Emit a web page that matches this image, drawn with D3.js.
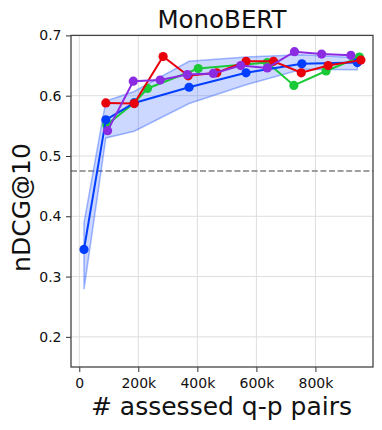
<!DOCTYPE html>
<html>
<head>
<meta charset="utf-8">
<script src="https://cdn.jsdelivr.net/npm/d3@7"></script>
<style>
  body { margin: 0; background: #fff; }
  svg { font-family: "DejaVu Sans", sans-serif; }
</style>
</head>
<body>
<div id="chart"></div>
<script>
// data
const blueX = [16, 90, 186, 372, 565, 754, 942];
const blueY = [0.345, 0.560, 0.588, 0.614, 0.638, 0.653, 0.655];
const bandLow = [0.279, 0.530, 0.541, 0.587, 0.618, 0.644, 0.643];
const bandHigh = [0.389, 0.591, 0.607, 0.657, 0.664, 0.668, 0.663];

const redX = [90, 186, 284, 369, 466, 565, 658, 752, 843, 954];
const redY = [0.588, 0.587, 0.665, 0.633, 0.638, 0.657, 0.657, 0.638, 0.650, 0.659];

const purpleX = [96, 183, 274, 366, 454, 547, 637, 729, 821, 920];
const purpleY = [0.542, 0.624, 0.626, 0.635, 0.637, 0.650, 0.646, 0.673, 0.669, 0.667];

const greenX = [93, 186, 231, 403, 637, 727, 836, 949];
const greenY = [0.552, 0.588, 0.612, 0.645, 0.655, 0.617, 0.641, 0.664];

const xTicks = [0, 200, 400, 600, 800];
const yTicks = [0.2, 0.3, 0.4, 0.5, 0.6, 0.7];
const baseline = 0.475;

const w = 382, h = 430;
const pLeft = 71, pRight = 373, pTop = 35.4, pBottom = 367;

const svg = d3.select("#chart").append("svg")
  .attr("width", w).attr("height", h);

const xScale = d3.scaleLinear().domain([-28, 995]).range([pLeft, pRight]);
const yScale = d3.scaleLinear().domain([0.15, 0.7]).range([pBottom, pTop]);

// grid
svg.append("g").selectAll("line").data(xTicks).enter().append("line")
  .attr("x1", d => xScale(d)).attr("x2", d => xScale(d))
  .attr("y1", pTop).attr("y2", pBottom)
  .attr("stroke", "#dedede").attr("stroke-width", 1);
svg.append("g").selectAll("line").data(yTicks).enter().append("line")
  .attr("x1", pLeft).attr("x2", pRight)
  .attr("y1", d => yScale(d)).attr("y2", d => yScale(d))
  .attr("stroke", "#dedede").attr("stroke-width", 1);

// dashed reference line
svg.append("line")
  .attr("x1", pLeft).attr("x2", pRight)
  .attr("y1", yScale(baseline)).attr("y2", yScale(baseline))
  .attr("stroke", "#808080").attr("stroke-width", 1.6)
  .attr("stroke-dasharray", "6,2.6");

// band
const band = blueX.map((x, i) => ({ x, lo: bandLow[i], hi: bandHigh[i] }));
svg.append("path").datum(band)
  .attr("d", d3.area().x(d => xScale(d.x)).y0(d => yScale(d.lo)).y1(d => yScale(d.hi)))
  .attr("fill", "#023eff").attr("fill-opacity", 0.2)
  .attr("stroke", "#023eff").attr("stroke-opacity", 0.35).attr("stroke-width", 1.5);

const series = [
  { xs: greenX, ys: greenY, color: "#1ac938" },
  { xs: blueX, ys: blueY, color: "#023eff" },
  { xs: redX, ys: redY, color: "#e8000b" },
  { xs: purpleX, ys: purpleY, color: "#8b2be2" }
];

const line = d3.line().x(d => xScale(d[0])).y(d => yScale(d[1]));

series.forEach(s => {
  const pts = s.xs.map((x, i) => [x, s.ys[i]]);
  const g = svg.append("g");
  g.append("path").datum(pts)
    .attr("d", line).attr("fill", "none")
    .attr("stroke", s.color).attr("stroke-width", 2);
  g.selectAll("circle").data(pts).enter().append("circle")
    .attr("cx", d => xScale(d[0])).attr("cy", d => yScale(d[1]))
    .attr("r", 4.6).attr("fill", s.color);
});

// axes
const xAxis = svg.append("g")
  .attr("transform", `translate(0,${pBottom})`)
  .call(d3.axisBottom(xScale).tickValues(xTicks)
    .tickFormat(d => d === 0 ? "0" : d + "k").tickSize(5).tickPadding(6.5));
const yAxis = svg.append("g")
  .attr("transform", `translate(${pLeft},0)`)
  .call(d3.axisLeft(yScale).tickValues(yTicks)
    .tickFormat(d3.format(".1f")).tickSize(5).tickPadding(4.5));

[xAxis, yAxis].forEach(a => {
  a.select(".domain").remove();
  a.selectAll("line").attr("stroke", "#333").attr("stroke-width", 1);
  a.selectAll("text").attr("font-size", 14).attr("fill", "#111")
    .attr("font-family", "DejaVu Sans");
});

// frame
svg.append("rect")
  .attr("x", pLeft).attr("y", pTop)
  .attr("width", pRight - pLeft).attr("height", pBottom - pTop)
  .attr("fill", "none").attr("stroke", "#444").attr("stroke-width", 1.3);

// labels
svg.append("text")
  .attr("x", (pLeft + pRight) / 2).attr("y", 28)
  .attr("text-anchor", "middle").attr("font-size", 24.5).attr("fill", "#111")
  .text("MonoBERT");
svg.append("text")
  .attr("x", 221.5).attr("y", 415)
  .attr("text-anchor", "middle").attr("font-size", 25).attr("fill", "#111")
  .text("# assessed q-p pairs");
svg.append("text")
  .attr("transform", "translate(29.5,207.5) rotate(-90)")
  .attr("text-anchor", "middle").attr("font-size", 25).attr("fill", "#111")
  .text("nDCG@10");
</script>
</body>
</html>
